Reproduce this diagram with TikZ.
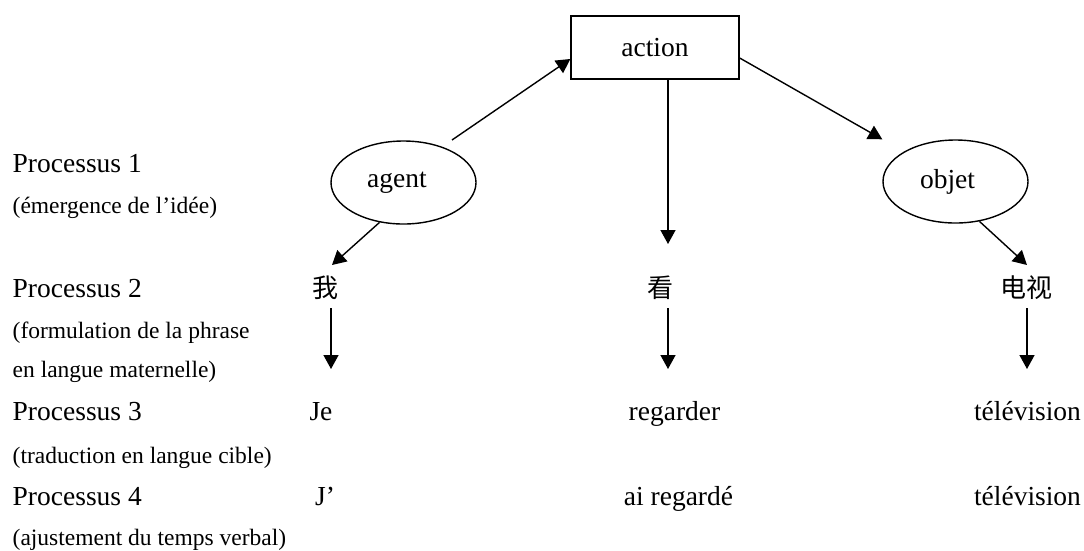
\documentclass[tikz,border=0pt]{standalone}
\usepackage{fontspec}
\setmainfont{Liberation Serif}
\newfontfamily\cjkfont{Noto Sans CJK SC}
\usetikzlibrary{arrows.meta,shapes.geometric}

\begin{document}
\begin{tikzpicture}[x=1pt,y=-1pt,
  line width=1.4pt,
  arr/.style={-{Triangle[length=14pt,width=15pt]}, line width=1.4pt},
  lbl/.style={font=\fontsize{27.5}{30}\selectfont, inner sep=0pt, anchor=base},
  proc/.style={font=\fontsize{27.5}{30}\selectfont, inner sep=0pt, anchor=base west},
  sub/.style={font=\fontsize{23.5}{26}\selectfont, inner sep=0pt, anchor=base west},
  zh/.style={font=\cjkfont\fontsize{26}{28}\selectfont, inner sep=0pt},
  boxnode/.style={draw, line width=1.4pt, minimum width=168pt, minimum height=63pt, inner sep=0pt, font=\fontsize{27.5}{30}\selectfont},
  ell/.style={draw, ellipse, line width=1.4pt, minimum width=145pt, minimum height=83pt, inner sep=0pt, font=\fontsize{27.5}{30}\selectfont}]

\useasboundingbox (0,0) rectangle (1084,550);

% left column
\node[proc] (p1)  at (12,172) {Processus 1};
\node[sub]  (p1s) at (12,213) {(émergence de l’idée)};
\node[proc] (p2)  at (12,297) {Processus 2};
\node[sub]  (p2s) at (12,338) {(formulation de la phrase};
\node[sub]  (p2t) at (12,377) {en langue maternelle)};
\node[proc] (p3)  at (12,420) {Processus 3};
\node[sub]  (p3s) at (12,463) {(traduction en langue cible)};
\node[proc] (p4)  at (12,505) {Processus 4};
\node[sub]  (p4s) at (12,545) {(ajustement du temps verbal)};

% top structure
\node[boxnode] (action) at (655,47.5) {action};
\node[ell] (agent) at (403.5,182.5) {agent\kern13pt};
\node[ell] (objet) at (955.5,181.5) {objet\kern16pt};

% Chinese words
\node[zh] (wo) at (325,287.5) {我};
\node[zh] (kan) at (660.5,287.5) {看};
\node[zh] (dianshi) at (1026,287.5) {电视};

% French rows
\node[lbl] (je) at (321,420) {Je};
\node[lbl] (regarder) at (674.5,420) {regarder};
\node[lbl] (tv1) at (1027.5,420) {télévision};
\node[lbl] (jp) at (325,505) {J’};
\node[lbl] (ai) at (678.5,505) {ai regardé};
\node[lbl] (tv2) at (1027.5,505) {télévision};

% free ends
\coordinate (agout) at (452,140);
\coordinate (woin) at (332,265);
\coordinate (kanin) at (668,244);
\coordinate (dsin) at (1027,265);
\coordinate (c1) at (331,369);
\coordinate (c2) at (668,369);
\coordinate (c3) at (1027,369);

% connectors
\draw[arr] (agout) -- ([yshift=-11.5pt]action.west);
\draw[arr] ([yshift=-10.5pt]action.east) -- (objet.west |- objet.north);
\draw[arr] (action.south -| c2) -- (kanin);
\draw[arr] (agent.239) -- (woin);
\draw[arr] (objet.-59) -- (dsin);
\draw[arr, shorten <=8pt] (wo.south -| c1) -- (c1);
\draw[arr, shorten <=8pt] (kan.south -| c2) -- (c2);
\draw[arr, shorten <=8pt] (dianshi.south -| c3) -- (c3);

\end{tikzpicture}
\end{document}
